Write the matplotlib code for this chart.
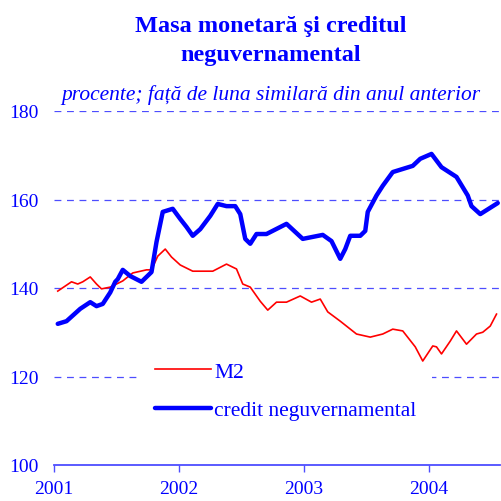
import matplotlib
matplotlib.use("Agg")
import matplotlib.pyplot as plt

# Data (time as fractional year, values in percent)
credit_t = [2001.03, 2001.10, 2001.21, 2001.29, 2001.34, 2001.39, 2001.45, 2001.49, 2001.51, 2001.55,
            2001.61, 2001.70, 2001.78, 2001.82, 2001.87, 2001.95, 2002.01, 2002.06, 2002.11, 2002.17,
            2002.25, 2002.31, 2002.38, 2002.45, 2002.49, 2002.53, 2002.57, 2002.62, 2002.70, 2002.86,
            2002.99, 2003.15, 2003.22, 2003.29, 2003.33, 2003.37, 2003.45, 2003.49, 2003.51, 2003.58,
            2003.63, 2003.71, 2003.87, 2003.93, 2004.02, 2004.10, 2004.22, 2004.31, 2004.34, 2004.41,
            2004.55]
credit_v = [131.9, 132.5, 135.3, 136.8, 135.9, 136.4, 139.0, 141.4, 142.0, 144.1,
            142.7, 141.4, 143.6, 150.4, 157.2, 157.9, 155.6, 153.8, 151.8, 153.3,
            156.3, 159.0, 158.5, 158.5, 156.7, 151.1, 150.0, 152.2, 152.2, 154.5,
            151.1, 152.0, 150.6, 146.6, 148.8, 151.8, 151.8, 152.9, 157.2, 160.9,
            163.1, 166.2, 167.6, 169.2, 170.3, 167.3, 165.1, 160.9, 158.5, 156.7,
            159.2]

m2_t = [2001.03, 2001.14, 2001.19, 2001.23, 2001.29, 2001.34, 2001.38, 2001.45, 2001.55, 2001.63,
        2001.74, 2001.78, 2001.83, 2001.89, 2001.94, 2002.01, 2002.11, 2002.27, 2002.38, 2002.46,
        2002.51, 2002.57, 2002.65, 2002.71, 2002.78, 2002.86, 2002.97, 2003.06, 2003.13, 2003.19,
        2003.29, 2003.42, 2003.53, 2003.63, 2003.71, 2003.79, 2003.89, 2003.95, 2004.03, 2004.06,
        2004.10, 2004.17, 2004.22, 2004.30, 2004.38, 2004.43, 2004.49, 2004.54]
m2_v = [139.3, 141.4, 140.9, 141.4, 142.5, 140.9, 139.8, 140.2, 141.6, 143.4,
        144.1, 144.1, 147.2, 148.8, 147.0, 145.2, 143.8, 143.8, 145.4, 144.3,
        140.9, 140.2, 137.0, 135.0, 136.8, 136.8, 138.2, 136.8, 137.5, 134.6,
        132.5, 129.6, 128.9, 129.6, 130.7, 130.3, 126.7, 123.5, 126.9, 126.7,
        125.1, 128.0, 130.3, 127.3, 129.6, 130.0, 131.4, 134.1]

year_ticks = [2001, 2002, 2003, 2004]
y_ticks = [100, 120, 140, 160, 180]

title = "Masa monetară şi creditul\nneguvernamental"
subtitle = "procente; față de luna similară din anul anterior"

BLUE = "#0000ff"
GRID = "#4d4dff"
serif = ["Liberation Serif", "DejaVu Serif"]

fig = plt.figure(figsize=(5.02, 5.02), dpi=100)
ax = fig.add_axes([54/502, 1-466/502, 446/502, (466-112)/502])

ax.plot(m2_t, m2_v, color="#ff0000", lw=1.2, label="M2", zorder=3)
ax.plot(credit_t, credit_v, color=BLUE, lw=3.2, label="credit neguvernamental", zorder=3,
        solid_capstyle="round", solid_joinstyle="round")

ax.set_xlim(2001, 2004.568)
ax.set_ylim(100, 180)
ax.set_xticks(year_ticks)
ax.set_xticklabels([str(y) for y in year_ticks], fontfamily=serif, fontsize=14, color=BLUE)
ax.set_yticks(y_ticks)
ax.set_yticklabels([str(y) for y in y_ticks], fontfamily=serif, fontsize=14, color=BLUE)

for s in ["top", "right", "left"]:
    ax.spines[s].set_visible(False)
ax.spines["bottom"].set_color(GRID)
ax.spines["bottom"].set_linewidth(1.3)
ax.tick_params(axis="x", direction="out", length=5, width=1, color=GRID, pad=6)
ax.tick_params(axis="y", length=0, pad=11)

for yv in y_ticks[1:]:
    ax.axhline(yv, color=GRID, lw=0.9, dashes=(5.5, 4.5), zorder=1)

leg = ax.legend(loc="center left", bbox_to_anchor=((140-54)/446, (466-392)/354),
                frameon=True, fancybox=False, framealpha=1, edgecolor="none",
                prop={"family": serif, "size": 15.5}, handlelength=2.6,
                handletextpad=0.15, labelspacing=0.85, borderpad=0.7, borderaxespad=0)
leg.set_zorder(2)
for t in leg.get_texts():
    t.set_color(BLUE)

fig.text(271/502, 1-41/502, title, ha="center", va="center", fontfamily=serif,
         fontweight="bold", fontsize=17.5, color=BLUE, linespacing=1.45)
fig.text(271/502, 1-95/502, subtitle, ha="center", va="center", fontfamily=serif,
         fontstyle="italic", fontsize=15.5, color=BLUE)

fig.savefig("out.png", dpi=100)
